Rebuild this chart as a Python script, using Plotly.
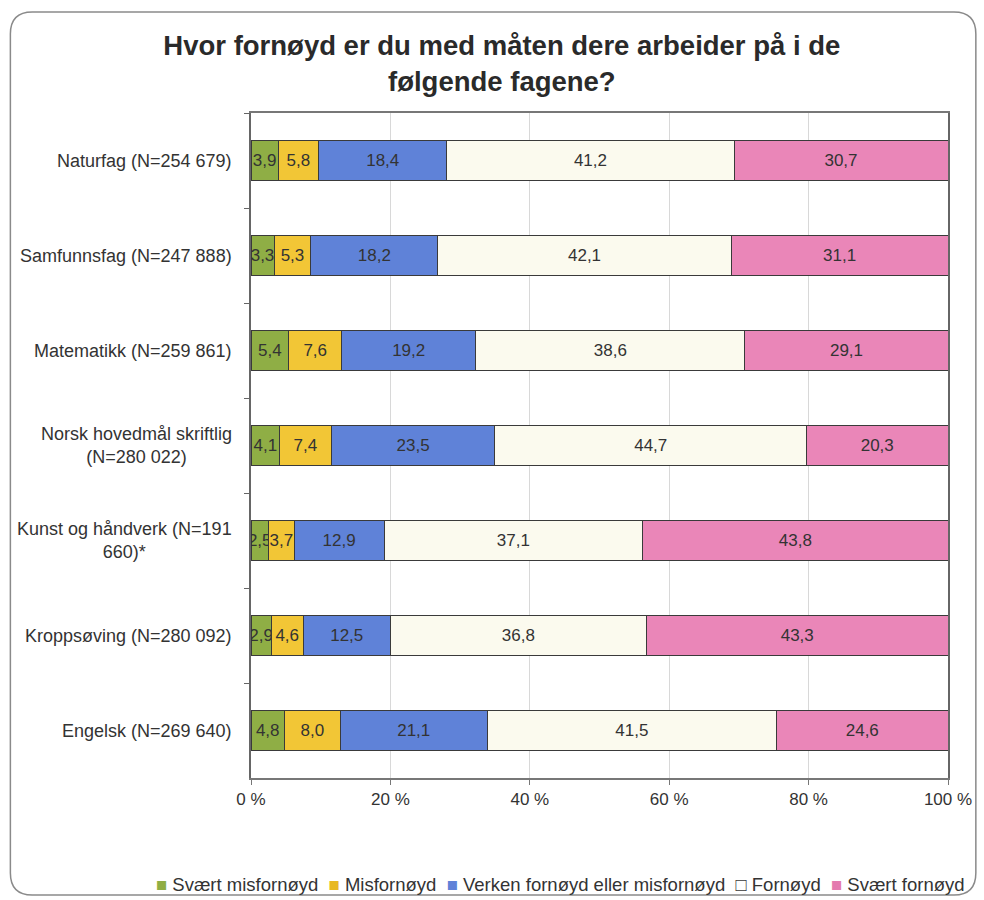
import plotly.graph_objects as go

categories = [
    "Naturfag (N=254 679)",
    "Samfunnsfag (N=247 888)",
    "Matematikk (N=259 861)",
    "Norsk hovedmål skriftlig<br>(N=280 022)",
    "Kunst og håndverk (N=191<br>660)*",
    "Kroppsøving (N=280 092)",
    "Engelsk (N=269 640)",
]
series_names = ["Svært misfornøyd", "Misfornøyd", "Verken fornøyd eller misfornøyd", "Fornøyd", "Svært fornøyd"]
svaert_misfornoyd = [3.9, 3.3, 5.4, 4.1, 2.5, 2.9, 4.8]
misfornoyd = [5.8, 5.3, 7.6, 7.4, 3.7, 4.6, 8.0]
verken = [18.4, 18.2, 19.2, 23.5, 12.9, 12.5, 21.1]
fornoyd = [41.2, 42.1, 38.6, 44.7, 37.1, 36.8, 41.5]
svaert_fornoyd = [30.7, 31.1, 29.1, 20.3, 43.8, 43.3, 24.6]
x_ticks = [0, 20, 40, 60, 80, 100]
x_tick_labels = ["0 %", "20 %", "40 %", "60 %", "80 %", "100 %"]

colors = ["#8fae45", "#f2c636", "#5f82d8", "#fbfaee", "#ea86b8"]
legend_glyph_colors = ["#8fae45", "#e8b824", "#5f82d8", "#3a3a3a", "#e47aae"]
values = [svaert_misfornoyd, misfornoyd, verken, fornoyd, svaert_fornoyd]

FONT = "Liberation Sans, Arial, sans-serif"
W, H = 984, 900
L, R, T, B = 251, 952, 113, 778

fig = go.Figure()
for name, vals, col in zip(series_names, values, colors):
    fig.add_trace(go.Bar(
        y=categories, x=vals, name=name, orientation="h", showlegend=False,
        marker=dict(color=col, line=dict(color="#3a3a3a", width=1)),
        text=[f"{v:.1f}".replace(".", ",") for v in vals],
        textposition="inside", insidetextanchor="middle",
        textangle=0, constraintext="none",
        textfont=dict(size=17, color="#333333", family=FONT),
    ))

def px_x(p):
    return (p - L) / (R - L)

def px_y(p):
    return (B - p) / (B - T)

# rounded outer border
x0, x1, y0, y1, r = 9, 980, 12, 895, 22
path = (
    f"M {px_x(x0 + r)} {px_y(y0)} L {px_x(x1 - r)} {px_y(y0)} "
    f"Q {px_x(x1)} {px_y(y0)} {px_x(x1)} {px_y(y0 + r)} "
    f"L {px_x(x1)} {px_y(y1 - r)} Q {px_x(x1)} {px_y(y1)} {px_x(x1 - r)} {px_y(y1)} "
    f"L {px_x(x0 + r)} {px_y(y1)} Q {px_x(x0)} {px_y(y1)} {px_x(x0)} {px_y(y1 - r)} "
    f"L {px_x(x0)} {px_y(y0 + r)} Q {px_x(x0)} {px_y(y0)} {px_x(x0 + r)} {px_y(y0)} Z"
)
fig.add_shape(type="path", path=path, xref="paper", yref="paper",
              line=dict(color="#8a8a8a", width=1.5), layer="below")

for c in categories:
    fig.add_annotation(x=0, y=c, xref="paper", yref="y", text=c, showarrow=False,
                       xanchor="right", xshift=-17, align="center",
                       font=dict(size=18, color="#333333", family=FONT))

# legend as a single line of text with coloured square glyphs
parts = []
for name, gcol, col in zip(series_names, legend_glyph_colors, colors):
    glyph = "□" if col == "#fbfaee" else "■"
    parts.append(f"<span style='color:{gcol}'>{glyph}</span> {name}")
fig.add_annotation(x=px_x(971), y=px_y(884), xref="paper", yref="paper", showarrow=False,
                   xanchor="right", yanchor="middle", text="&nbsp; ".join(parts),
                   font=dict(size=18.5, color="#333333", family=FONT))

fig.update_layout(
    width=W, height=H,
    margin=dict(l=L, r=W - R, t=T, b=H - B),
    barmode="stack", barnorm="percent", bargap=0.58,
    paper_bgcolor="white", plot_bgcolor="white",
    separators=", ",
    uniformtext=dict(minsize=17, mode="show"),
    font=dict(family=FONT, color="#333333"),
    showlegend=False,
    title=dict(text="<b>Hvor fornøyd er du med måten dere arbeider på i de<br>følgende fagene?</b>",
               x=0.510, xanchor="center", yref="container", y=1 - 55 / 900, yanchor="top",
               font=dict(size=27.5, color="#2a2a2a", family=FONT)),
    xaxis=dict(range=[0, 100], tickmode="array", tickvals=x_ticks, ticktext=x_tick_labels,
               showgrid=True, gridcolor="#d8d8d8", gridwidth=1,
               showline=True, linecolor="#777777", linewidth=1.5, mirror=True,
               ticks="outside", ticklen=5, tickcolor="#777777",
               tickfont=dict(size=17, color="#333333", family=FONT), zeroline=False),
    yaxis=dict(autorange="reversed", showticklabels=False,
               showline=True, linecolor="#666666", linewidth=1.5, mirror=True,
               ticks="outside", tickson="boundaries", ticklen=5, tickcolor="#666666",
               showgrid=False),
)

fig.write_html("out.html", config={"displayModeBar": False},
               post_script="document.body.style.margin='0';")
